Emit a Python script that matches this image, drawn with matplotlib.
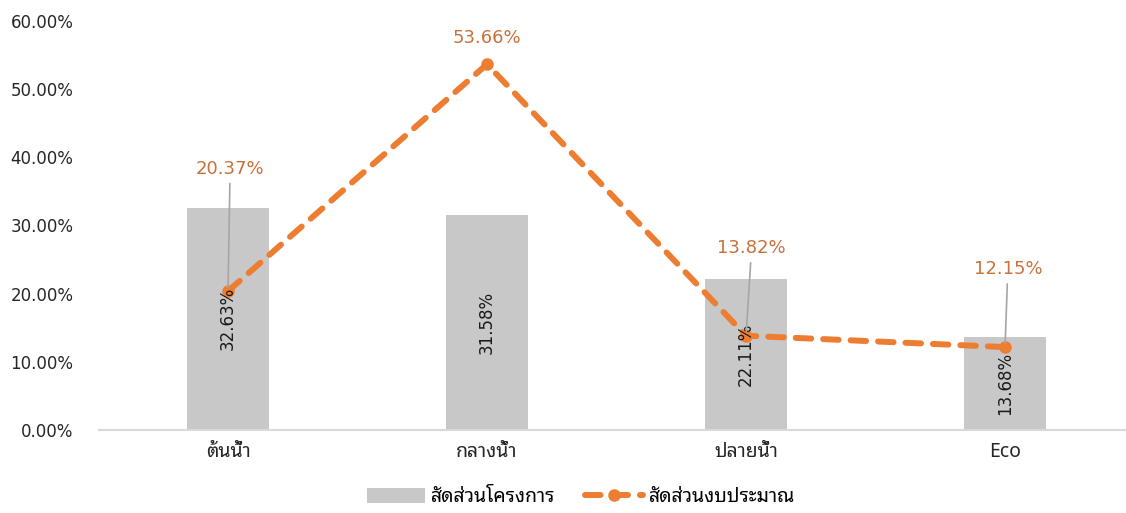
import matplotlib
matplotlib.use("Agg")
import matplotlib.pyplot as plt
from matplotlib.ticker import PercentFormatter
import numpy as np

plt.rcParams['font.family'] = ['DejaVu Sans', 'Noto Sans Thai Looped']
thai_font = ['Noto Sans Thai Looped', 'DejaVu Sans']

categories = ['ต้นน้ำ', 'กลางน้ำ', 'ปลายน้ำ', 'Eco']
project_share = [32.63, 31.58, 22.11, 13.68]
budget_share = [20.37, 53.66, 13.82, 12.15]
y_ticks = [0, 10, 20, 30, 40, 50, 60]

bar_color = '#C8C8C8'
line_color = '#ED7D31'
label_color = '#C8713A'

fig = plt.figure(figsize=(11.26, 5.13), dpi=100)
ax = fig.add_axes([0.0875, 0.162, 0.9125, 0.797])

x = np.arange(len(categories))
bars = ax.bar(x, project_share, width=0.32, color=bar_color, label='สัดส่วนโครงการ', zorder=1)
for xi, v in zip(x, project_share):
    ax.text(xi, v / 2, f'{v:.2f}%', rotation=90, ha='center', va='center',
            fontsize=12, color='#1a1a1a', zorder=4)

line, = ax.plot(x, budget_share, color=line_color, linestyle=(0, (2.6, 2.0)), linewidth=4.3,
                dash_capstyle='round', marker='o', markersize=8,
                label='สัดส่วนงบประมาณ', zorder=3)

# data labels for the line, some with leader lines
offsets = [(1.5, 88), (0, 19), (4, 63), (2, 56)]
for xi, v, off in zip(x, budget_share, offsets):
    leader = dict(arrowstyle='-', color='#A6A6A6', lw=1.2, shrinkA=2, shrinkB=3) if off[1] > 30 else None
    ax.annotate(f'{v:.2f}%', xy=(xi, v), xytext=off, textcoords='offset points',
                ha='center', va='center', fontsize=13, color=label_color,
                arrowprops=leader, zorder=5)

ax.set_xlim(-0.5, 3.467)
ax.set_ylim(0, 60)
ax.set_yticks(y_ticks)
ax.yaxis.set_major_formatter(PercentFormatter(decimals=2))
ax.set_xticks(x)
ax.set_xticklabels(categories, family=thai_font, fontsize=14)
ax.tick_params(axis='both', length=0, labelsize=12, colors='#262626')
ax.tick_params(axis='x', pad=9, labelsize=14)
ax.tick_params(axis='y', pad=18)
for s in ['top', 'right', 'left']:
    ax.spines[s].set_visible(False)
ax.spines['bottom'].set_color('#D9D9D9')
ax.spines['bottom'].set_linewidth(1.5)

fig.legend(handles=[bars, line], loc='center', bbox_to_anchor=(0.516, 0.031), ncol=2,
           frameon=False, prop={'family': thai_font, 'size': 14},
           handlelength=3.0, handleheight=0.8, columnspacing=1.5, handletextpad=0.3)

fig.savefig('out.png')
